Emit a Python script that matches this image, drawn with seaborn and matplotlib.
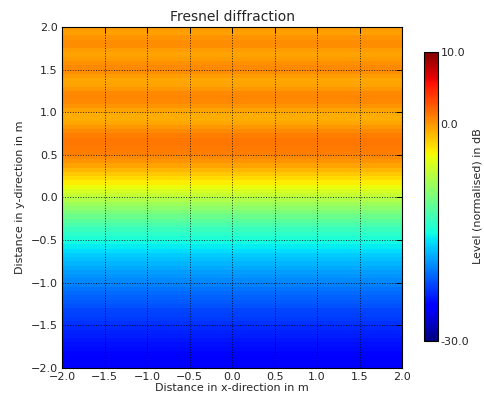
import numpy as np
import pandas as pd
import matplotlib
matplotlib.use("Agg")
import matplotlib.pyplot as plt
import seaborn as sns
from matplotlib.ticker import FormatStrFormatter

# level in dB along y (bottom -> top), one value per 0.05 m band from -2.0 to 2.0
level_db = [
    -25.5, -25.3, -25.1, -24.9, -24.6, -24.4, -24.1, -23.9, -23.6, -23.3,
    -23.1, -22.8, -22.5, -22.2, -21.8, -21.5, -21.2, -20.8, -20.4, -20.0,
    -19.6, -19.2, -18.8, -18.4, -17.9, -17.4, -16.9, -16.3, -15.75, -15.15,
    -14.5, -13.85, -13.15, -12.4, -11.6, -10.85, -10.0, -9.15, -8.3, -7.4,
    -6.5, -5.55, -4.65, -3.75, -2.9, -2.1, -1.3, -0.6, 0.05, 0.55,
    1.0, 1.2, 1.37, 1.25, 1.0, 0.55, -0.07, -0.66, -1.01, -0.93,
    -0.5, 0.15, 0.6, 0.78, 0.55, -0.1, -0.6, -0.72, -0.3, 0.35,
    0.6, 0.27, -0.3, -0.6, -0.2, 0.4, 0.45, 0.0, -0.4, -0.3,
]
n_x_cells = 8
x_ticks = [-2.0, -1.5, -1.0, -0.5, 0.0, 0.5, 1.0, 1.5, 2.0]
y_ticks = [-2.0, -1.5, -1.0, -0.5, 0.0, 0.5, 1.0, 1.5, 2.0]
cbar_ticks = [-30, 0, 10]


def fmt(v):
    return f"{v:.1f}".replace("-", "\u2212")


field = pd.DataFrame(np.tile(np.array(level_db)[:, None], (1, n_x_cells)))

sns.set_style("white")
plt.rcParams["font.family"] = ["DejaVu Sans"]

fig = plt.figure(figsize=(4.85, 3.96), dpi=100)
ax = fig.add_axes([0.128, 0.071, 0.701, 0.861])
cax = fig.add_axes([0.874, 0.139, 0.029, 0.730])

sns.heatmap(field, ax=ax, cmap="jet", vmin=-30, vmax=10, cbar=False,
            xticklabels=False, yticklabels=False)
ax.invert_yaxis()

n_rows = len(level_db)
ax.set_xticks(np.linspace(0, n_x_cells, len(x_ticks)))
ax.set_xticklabels([fmt(v) for v in x_ticks], rotation=0)
ax.set_yticks(np.linspace(0, n_rows, len(y_ticks)))
ax.set_yticklabels([fmt(v) for v in y_ticks], rotation=0)
ax.tick_params(direction="in", top=True, right=True, length=4, width=0.7,
               labelsize=8, pad=3, colors="black", labelcolor="#262626")
for s in ax.spines.values():
    s.set_visible(True)
    s.set_color("black")
    s.set_linewidth(0.8)

ax.set_axisbelow(False)
ax.grid(True, color="black", linestyle=":", linewidth=0.7, alpha=0.8)

ax.set_title("Fresnel diffraction", fontsize=10, color="#262626", pad=4)
ax.set_xlabel("Distance in x-direction in m", fontsize=8, color="#262626", labelpad=1)
ax.set_ylabel("Distance in y-direction in m", fontsize=8, color="#262626", labelpad=4)

cb = fig.colorbar(ax.collections[0], cax=cax, ticks=cbar_ticks,
                  format=FormatStrFormatter("%.1f"))
cb.outline.set_edgecolor("black")
cb.outline.set_linewidth(0.8)
cax.tick_params(direction="in", length=4, width=0.7, labelsize=8,
                colors="black", labelcolor="#262626", pad=2)
cb.set_label("Level (normalised) in dB", fontsize=8, color="#262626", labelpad=2)

fig.savefig("out.png", dpi=100)
